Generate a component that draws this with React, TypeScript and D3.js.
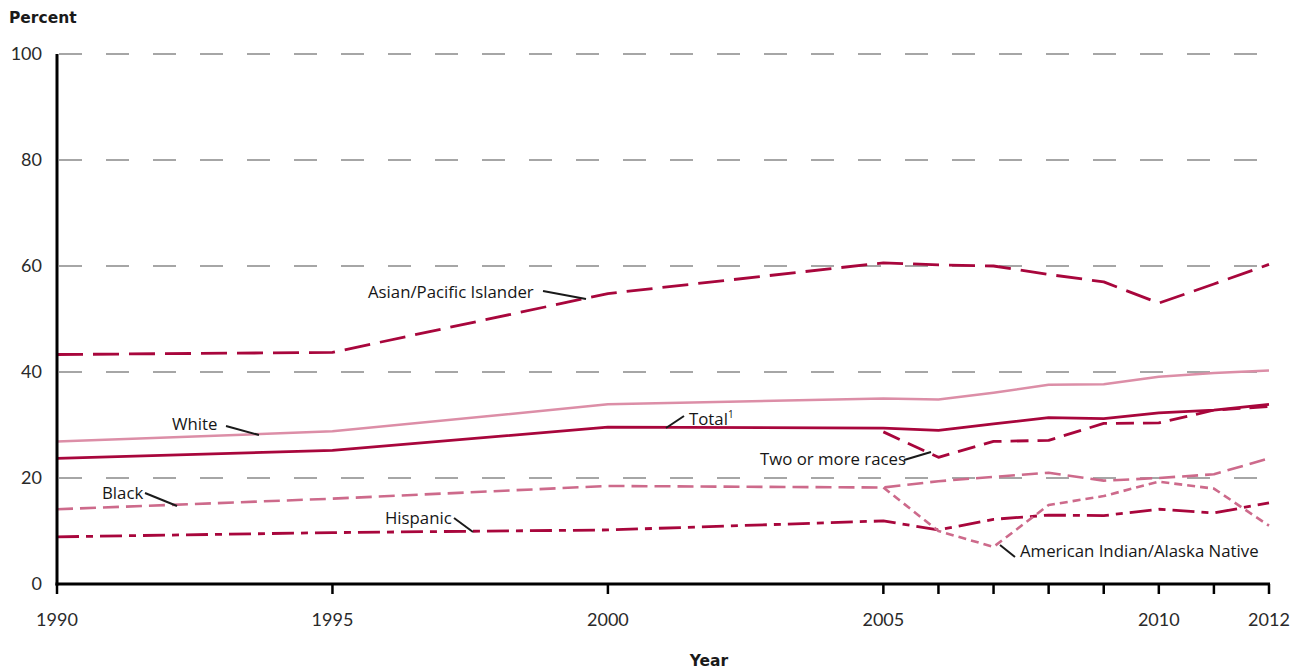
import React from "react";
import * as d3 from "d3";

const years = [1990, 1995, 2000, 2005, 2006, 2007, 2008, 2009, 2010, 2011, 2012];
const yTicks = [0, 20, 40, 60, 80, 100];
const xTickLabels = [1990, 1995, 2000, 2005, 2010, 2012];
const xTickMarks = [1990, 1995, 2000, 2005, 2006, 2007, 2008, 2009, 2010, 2011, 2012];

const asianPI = [43.3, 43.7, 54.8, 60.6, 60.2, 60.0, 58.4, 57.0, 53.0, 56.6, 60.3];
const white = [26.9, 28.8, 33.9, 35.0, 34.8, 36.1, 37.6, 37.7, 39.1, 39.8, 40.3];
const total = [23.7, 25.2, 29.6, 29.4, 29.0, 30.2, 31.4, 31.2, 32.3, 32.8, 33.9];
const twoOrMore = [null, null, null, 28.7, 23.9, 26.9, 27.1, 30.3, 30.4, 32.8, 33.5];
const black = [14.1, 16.1, 18.5, 18.2, 19.4, 20.2, 21.0, 19.5, 20.0, 20.7, 23.7];
const hispanic = [8.9, 9.7, 10.2, 11.9, 10.2, 12.2, 13.0, 12.9, 14.1, 13.4, 15.3];
const aian = [null, null, null, 18.2, 10.0, 7.0, 14.9, 16.6, 19.3, 18.0, 11.0];

const DARK = "#a8063c";
const LIGHT = "#dc8ea7";
const MID = "#cd6a8b";

const series = [
  { name: "White", values: white, color: LIGHT, dash: "none", width: 2.5 },
  { name: "Total", values: total, color: DARK, dash: "none", width: 2.8 },
  { name: "Asian/Pacific Islander", values: asianPI, color: DARK, dash: "26,10", width: 2.8 },
  { name: "Two or more races", values: twoOrMore, color: DARK, dash: "18,9", width: 2.8 },
  { name: "Black", values: black, color: MID, dash: "16,7", width: 2.6 },
  { name: "Hispanic", values: hispanic, color: DARK, dash: "22,7,7,7", width: 2.8 },
  { name: "American Indian/Alaska Native", values: aian, color: MID, dash: "8,5", width: 2.6 },
];

const labels = [
  { text: "Asian/Pacific Islander", x: 368, y: 298, line: [543, 291, 586, 299] },
  { text: "White", x: 172, y: 430, line: [226, 426, 259, 435] },
  { text: "Total", sup: "1", x: 689, y: 425, line: [684, 416, 666, 428] },
  { text: "Two or more races", x: 760, y: 465, line: [904, 460, 931, 452] },
  { text: "Black", x: 102, y: 499, line: [145, 493, 177, 506] },
  { text: "Hispanic", x: 385, y: 524, line: [454, 518, 473, 532] },
  { text: "American Indian/Alaska Native", x: 1020, y: 557, line: [1015, 557, 1000, 545] },
];

export default function App() {
  const x = d3.scaleLinear().domain([1990, 2012]).range([57, 1269]);
  const y = d3.scaleLinear().domain([0, 100]).range([584, 54]);
  const axisFont = "Lato, 'DejaVu Sans', sans-serif";
  const titleFont = "'DejaVu Sans', sans-serif";
  const labelFont = "'Open Sans', 'Noto Sans', sans-serif";

  const line = d3
    .line<number | null>()
    .defined((d) => d !== null)
    .x((_, i) => x(years[i]))
    .y((d) => y(d as number));

  return (
    <svg
      width={1297}
      height={669}
      style={{ position: "absolute", left: 0, top: 0, background: "#fff" }}
    >
      {/* gridlines */}
      {yTicks
        .filter((t) => t > 0)
        .map((t) => (
          <line
            key={t}
            x1={x(1990) + 2}
            x2={x(2012)}
            y1={y(t)}
            y2={y(t)}
            stroke="#a6a6a6"
            strokeWidth={2}
            strokeDasharray="23,24"
          />
        ))}

      {/* y tick labels */}
      {yTicks.map((t) => (
        <text
          key={t}
          x={42}
          y={y(t)}
          dy="0.36em"
          textAnchor="end"
          fontFamily={axisFont}
          fontSize={18}
          fill="#2a2a2a"
        >
          {t}
        </text>
      ))}

      {/* series */}
      {series.map((s) => (
        <path
          key={s.name}
          d={line(s.values) || ""}
          fill="none"
          stroke={s.color}
          strokeWidth={s.width}
          strokeDasharray={s.dash}
          strokeLinejoin="round"
        />
      ))}

      {/* axes */}
      <line x1={x(1990)} x2={x(1990)} y1={y(100)} y2={y(0) + 1.5} stroke="#000" strokeWidth={3} />
      <line x1={x(1990) - 1.5} x2={x(2012) + 1} y1={y(0)} y2={y(0)} stroke="#000" strokeWidth={3} />
      {xTickMarks.map((t) => (
        <line key={t} x1={x(t)} x2={x(t)} y1={y(0)} y2={y(0) + 10} stroke="#000" strokeWidth={2.5} />
      ))}
      {xTickLabels.map((t) => (
        <text
          key={t}
          x={x(t)}
          y={620}
          dy="0.36em"
          textAnchor="middle"
          fontFamily={axisFont}
          fontSize={18}
          fill="#2a2a2a"
        >
          {t}
        </text>
      ))}

      {/* axis titles */}
      <text x={9} y={23} fontFamily={titleFont} fontWeight="bold" fontSize={15.5} fill="#1a1a1a">
        Percent
      </text>
      <text x={709} y={666} textAnchor="middle" fontFamily={titleFont} fontWeight="bold" fontSize={15.5} fill="#1a1a1a">
        Year
      </text>

      {/* annotations */}
      {labels.map((l) => (
        <g key={l.text}>
          <line
            x1={l.line[0]}
            y1={l.line[1]}
            x2={l.line[2]}
            y2={l.line[3]}
            stroke="#1a1a1a"
            strokeWidth={2}
          />
          <text x={l.x} y={l.y} fontFamily={labelFont} fontSize={16.8} fill="#161616">
            {l.text}
            {l.sup ? (
              <tspan fontSize={10} dy={-7}>
                {l.sup}
              </tspan>
            ) : null}
          </text>
        </g>
      ))}
    </svg>
  );
}
